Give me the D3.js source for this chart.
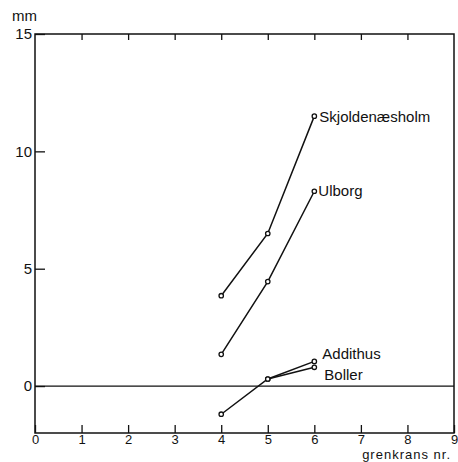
<!DOCTYPE html>
<html>
<head>
<meta charset="utf-8">
<script src="https://cdn.jsdelivr.net/npm/d3@7"></script>
<style>
body { margin: 0; background: #fff; }
text { font-family: "Liberation Sans Narrow", "Liberation Sans", sans-serif; fill: #111; }
</style>
</head>
<body>
<svg></svg>
<script>
var xTicks = [0,1,2,3,4,5,6,7,8,9]
var yTicks = [0,5,10,15]

var skjoldX = [4,5,6]
var skjoldY = [3.85,6.5,11.5]
var ulborgX = [4,5,6]
var ulborgY = [1.35,4.45,8.3]
var addithusX = [4,5,6]
var addithusY = [-1.2,0.3,1.05]
var bollerX = [5,6]
var bollerY = [0.3,0.8]

var seriesNames = ["Skjoldenæsholm","Ulborg","Addithus","Boller"]

var screen = {width:458,height:462}
var margins = {top:34,right:4,bottom:29,left:35}

var width = screen.width - margins.left - margins.right
var height = screen.height - margins.top - margins.bottom

var svg = d3.select("svg")
    .attr("width",screen.width)
    .attr("height",screen.height)

var g = svg.append("g")
    .attr("transform","translate("+margins.left+","+margins.top+")")

var xScale = d3.scaleLinear().domain([0,9]).range([0,width])
var yScale = d3.scaleLinear().domain([-2,15]).range([height,0])

// frame
g.append("rect")
    .attr("x",0).attr("y",0)
    .attr("width",width).attr("height",height)
    .attr("fill","none").attr("stroke","#111").attr("stroke-width",1.5)

// bottom axis, ticks point inward
var xAxis = d3.axisBottom(xScale).tickValues(xTicks).tickSize(-8).tickPadding(2)
g.append("g")
    .attr("transform","translate(0,"+height+")")
    .call(xAxis)
    .call(function(s){
        s.select(".domain").remove()
        s.selectAll("line").attr("stroke","#111").attr("stroke-width",1.3)
        s.selectAll("text").style("font-size","13px").attr("font-family",null)
    })

// top ticks
g.append("g")
    .call(d3.axisTop(xScale).tickValues([1,2,3,4,5,6,7,8]).tickSize(-6).tickFormat(""))
    .call(function(s){
        s.select(".domain").remove()
        s.selectAll("line").attr("stroke","#111").attr("stroke-width",1.3)
    })

// left axis
var yAxis = d3.axisLeft(yScale).tickValues(yTicks).tickSize(-10).tickPadding(3)
g.append("g")
    .call(yAxis)
    .call(function(s){
        s.select(".domain").remove()
        s.selectAll("line").attr("stroke","#111").attr("stroke-width",1.3)
        s.selectAll("text").style("font-size","15px").attr("font-family",null)
    })

// zero line
g.append("line")
    .attr("x1",0).attr("x2",width)
    .attr("y1",yScale(0)).attr("y2",yScale(0))
    .attr("stroke","#111").attr("stroke-width",1.3)

svg.append("text").attr("x",12).attr("y",21).style("font-size","15px").text("mm")
svg.append("text").attr("x",451).attr("y",459).attr("text-anchor","end")
    .style("font-size","13px").style("letter-spacing","1px").text("grenkrans nr.")

var line = d3.line()
    .x(function(d){ return xScale(d[0]) })
    .y(function(d){ return yScale(d[1]) })

var series = [
    {name:seriesNames[0], x:skjoldX, y:skjoldY, dx:5, dy:6},
    {name:seriesNames[1], x:ulborgX, y:ulborgY, dx:4, dy:5},
    {name:seriesNames[2], x:addithusX, y:addithusY, dx:8, dy:-2},
    {name:seriesNames[3], x:bollerX, y:bollerY, dx:10, dy:13}
]

series.forEach(function(s){
    var pts = s.x.map(function(v,i){ return [v,s.y[i]] })
    g.append("path")
        .attr("d",line(pts))
        .attr("fill","none").attr("stroke","#111").attr("stroke-width",1.5)
    g.selectAll(null)
        .data(pts)
        .enter()
        .append("circle")
        .attr("cx",function(d){ return xScale(d[0]) })
        .attr("cy",function(d){ return yScale(d[1]) })
        .attr("r",2.2)
        .attr("fill","#fff").attr("stroke","#111").attr("stroke-width",1.3)
    var last = pts[pts.length-1]
    g.append("text")
        .attr("x",xScale(last[0])+s.dx)
        .attr("y",yScale(last[1])+s.dy)
        .style("font-size","15px")
        .text(s.name)
})
</script>
</body>
</html>
